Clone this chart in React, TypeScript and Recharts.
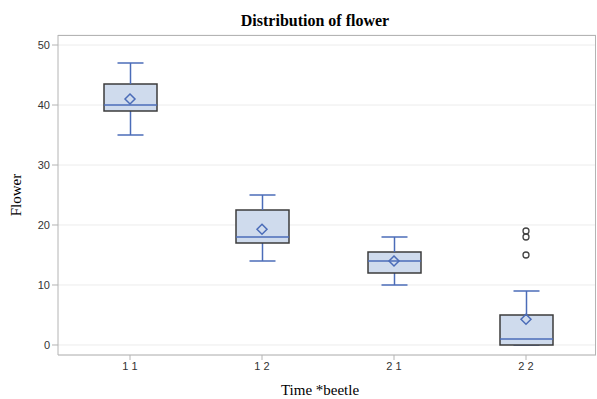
import { ComposedChart, Bar, Scatter, XAxis, YAxis, CartesianGrid } from 'recharts';

const groups = ['1 1', '1 2', '2 1', '2 2'];
const mins = [35, 14, 10, 0];
const q1s = [39, 17, 12, 0];
const medians = [40, 18, 14, 1];
const q3s = [43.5, 22.5, 15.5, 5];
const maxs = [47, 25, 18, 9];
const means = [41, 19.3, 14, 4.3];
const outliers: number[][] = [[], [], [], [15, 18, 19]];
const yTicks = [0, 10, 20, 30, 40, 50];

const BLUE = '#4b6cb8';
const FILL = '#cfdbed';
const EDGE = '#3c3c3c';
const AXIS = '#b4b4b4';

const data = groups.map((g, i) => ({
  group: g,
  base: mins[i],
  lowW: q1s[i] - mins[i],
  lowBox: medians[i] - q1s[i],
  highBox: q3s[i] - medians[i],
  highW: maxs[i] - q3s[i],
  mean: means[i],
  o1: outliers[i][0] ?? null,
  o2: outliers[i][1] ?? null,
  o3: outliers[i][2] ?? null,
}));

const LowWhisker = (p: any) => {
  const cx = p.x + p.width / 2;
  const bottom = p.y + p.height;
  return (
    <g>
      <line x1={cx} x2={cx} y1={p.y} y2={bottom} stroke={BLUE} strokeWidth={1.5} />
      <line x1={cx - 13} x2={cx + 13} y1={bottom} y2={bottom} stroke={BLUE} strokeWidth={1.5} />
    </g>
  );
};

const HighWhisker = (p: any) => {
  const cx = p.x + p.width / 2;
  return (
    <g>
      <line x1={cx} x2={cx} y1={p.y} y2={p.y + p.height} stroke={BLUE} strokeWidth={1.5} />
      <line x1={cx - 13} x2={cx + 13} y1={p.y} y2={p.y} stroke={BLUE} strokeWidth={1.5} />
    </g>
  );
};

const LowBox = (p: any) => {
  const { x, y, width, height } = p;
  return (
    <g>
      <rect x={x} y={y} width={width} height={height} fill={FILL} />
      <path d={`M${x},${y} V${y + height} H${x + width} V${y}`} fill="none" stroke={EDGE} strokeWidth={1.5} />
    </g>
  );
};

const HighBox = (p: any) => {
  const { x, y, width, height } = p;
  return (
    <g>
      <rect x={x} y={y} width={width} height={height} fill={FILL} />
      <path d={`M${x},${y + height} V${y} H${x + width} V${y + height}`} fill="none" stroke={EDGE} strokeWidth={1.5} />
      <line x1={x} x2={x + width} y1={y + height} y2={y + height} stroke={BLUE} strokeWidth={1.5} />
    </g>
  );
};

const Diamond = (p: any) => {
  const { cx, cy } = p;
  return (
    <path d={`M${cx},${cy - 5} L${cx + 5},${cy} L${cx},${cy + 5} L${cx - 5},${cy} Z`} fill="none" stroke={BLUE} strokeWidth={1.5} />
  );
};

const outlierShape = (key: string) => (p: any) => {
  if (p.payload == null || p.payload[key] == null) return <g />;
  return <circle cx={p.cx} cy={p.cy} r={3} fill="none" stroke="#444" strokeWidth={1.3} />;
};

export default function App() {
  return (
    <div style={{ position: 'absolute', left: 0, top: 0, width: 597, height: 399, background: '#fff' }}>
      <div
        style={{
          position: 'absolute', left: 315, top: 13, transform: 'translateX(-50%)', whiteSpace: 'nowrap',
          fontFamily: '"Liberation Serif", serif', fontWeight: 'bold', fontSize: 16, lineHeight: '16px', color: '#000',
        }}
      >
        Distribution of flower
      </div>
      <ComposedChart width={597} height={399} data={data} margin={{ top: 35, right: 1, bottom: 0, left: 0 }}>
        <CartesianGrid vertical={false} stroke="#ececec" />
        <XAxis
          dataKey="group"
          height={44}
          padding={{ left: 6, right: 4 }}
          stroke={AXIS}
          tickSize={5}
          tick={{ fontSize: 11, fill: '#333', fontFamily: '"Liberation Sans", Arial, sans-serif' }}
          label={(props: any) => {
            const vb = props.viewBox;
            return (
              <text x={320} y={vb.y + 40} textAnchor="middle" fontFamily='"Liberation Serif", serif' fontSize={15} fill="#000">
                Time *beetle
              </text>
            );
          }}
        />
        <YAxis
          width={58}
          domain={[-1.667, 51.667]}
          ticks={yTicks}
          allowDataOverflow
          stroke={AXIS}
          tickSize={6}
          tick={{ fontSize: 11, fill: '#333', fontFamily: '"Liberation Sans", Arial, sans-serif' }}
          label={(props: any) => {
            const vb = props.viewBox;
            const cy = vb.y + vb.height / 2;
            return (
              <text x={21} y={cy} transform={`rotate(-90 21 ${cy})`} textAnchor="middle" fontFamily='"Liberation Serif", serif' fontSize={15} fill="#000">
                Flower
              </text>
            );
          }}
        />
        <Bar dataKey="base" stackId="box" barSize={53} fill="none" shape={() => <g />} isAnimationActive={false} />
        <Bar dataKey="lowW" stackId="box" barSize={53} shape={LowWhisker} isAnimationActive={false} />
        <Bar dataKey="lowBox" stackId="box" barSize={53} shape={LowBox} isAnimationActive={false} />
        <Bar dataKey="highBox" stackId="box" barSize={53} shape={HighBox} isAnimationActive={false} />
        <Bar dataKey="highW" stackId="box" barSize={53} shape={HighWhisker} isAnimationActive={false} />
        <Scatter dataKey="mean" shape={Diamond} isAnimationActive={false} />
        <Scatter dataKey="o1" shape={outlierShape('o1')} isAnimationActive={false} />
        <Scatter dataKey="o2" shape={outlierShape('o2')} isAnimationActive={false} />
        <Scatter dataKey="o3" shape={outlierShape('o3')} isAnimationActive={false} />
      </ComposedChart>
      <div
        style={{
          position: 'absolute', left: 58, top: 35, width: 538, height: 320, boxSizing: 'border-box',
          borderTop: `1px solid ${AXIS}`, borderRight: `1px solid ${AXIS}`, pointerEvents: 'none',
        }}
      />
    </div>
  );
}
